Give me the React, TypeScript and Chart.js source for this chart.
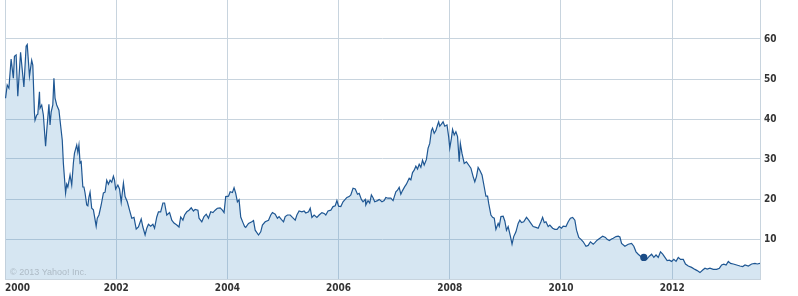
import React, { useEffect, useRef } from 'react';
import { Chart, registerables } from 'chart.js';

Chart.register(...registerables);

// Time in fractional years, price in USD
const years = [
  2000.01, 2000.04, 2000.07, 2000.11, 2000.15, 2000.17, 2000.2, 2000.23, 2000.28, 2000.34,
  2000.38, 2000.4, 2000.44, 2000.48, 2000.5, 2000.53, 2000.54, 2000.57, 2000.59, 2000.62,
  2000.63, 2000.66, 2000.69, 2000.73, 2000.75, 2000.79, 2000.81, 2000.83, 2000.86, 2000.88,
  2000.9, 2000.93, 2000.97, 2000.99, 2001.03, 2001.05, 2001.09, 2001.11, 2001.13, 2001.17,
  2001.2, 2001.23, 2001.25, 2001.29, 2001.31, 2001.33, 2001.35, 2001.37, 2001.4, 2001.42,
  2001.44, 2001.47, 2001.49, 2001.51, 2001.53, 2001.56, 2001.59, 2001.64, 2001.66, 2001.69,
  2001.73, 2001.77, 2001.8, 2001.83, 2001.86, 2001.89, 2001.92, 2001.95, 2001.97, 2001.99,
  2002.03, 2002.06, 2002.09, 2002.13, 2002.16, 2002.2, 2002.24, 2002.28, 2002.32, 2002.36,
  2002.4, 2002.45, 2002.48, 2002.52, 2002.55, 2002.58, 2002.62, 2002.66, 2002.69, 2002.73,
  2002.76, 2002.8, 2002.84, 2002.87, 2002.91, 2002.96, 2003.0, 2003.04, 2003.09, 2003.13,
  2003.16, 2003.2, 2003.23, 2003.27, 2003.31, 2003.35, 2003.39, 2003.42, 2003.47, 2003.49,
  2003.54, 2003.58, 2003.62, 2003.66, 2003.7, 2003.74, 2003.78, 2003.82, 2003.87, 2003.91,
  2003.94, 2003.97, 2004.02, 2004.05, 2004.09, 2004.12, 2004.15, 2004.18, 2004.21, 2004.24,
  2004.28, 2004.31, 2004.33, 2004.38, 2004.44, 2004.47, 2004.5, 2004.56, 2004.6, 2004.63,
  2004.68, 2004.74, 2004.78, 2004.81, 2004.86, 2004.9, 2004.93, 2004.97, 2005.01, 2005.04,
  2005.08, 2005.13, 2005.17, 2005.22, 2005.25, 2005.29, 2005.34, 2005.38, 2005.41, 2005.46,
  2005.49, 2005.52, 2005.56, 2005.61, 2005.65, 2005.7, 2005.74, 2005.77, 2005.81, 2005.86,
  2005.9, 2005.94, 2005.97, 2006.0, 2006.04, 2006.08, 2006.15, 2006.19, 2006.22, 2006.26,
  2006.3, 2006.34, 2006.37, 2006.41, 2006.44, 2006.48, 2006.49, 2006.53, 2006.56, 2006.59,
  2006.62, 2006.65, 2006.7, 2006.73, 2006.78, 2006.82, 2006.85, 2006.89, 2006.94, 2006.98,
  2007.03, 2007.06, 2007.09, 2007.12, 2007.15, 2007.19, 2007.22, 2007.27, 2007.3, 2007.33,
  2007.36, 2007.39, 2007.42, 2007.45, 2007.48, 2007.51, 2007.54, 2007.58, 2007.61, 2007.64,
  2007.67, 2007.69, 2007.72, 2007.75, 2007.78, 2007.8, 2007.82, 2007.85, 2007.88, 2007.91,
  2007.95, 2007.98, 2008.0, 2008.03, 2008.05, 2008.08, 2008.11, 2008.14, 2008.17, 2008.19,
  2008.22, 2008.26, 2008.3, 2008.34, 2008.38, 2008.42, 2008.45, 2008.48, 2008.51, 2008.54,
  2008.58, 2008.62, 2008.65, 2008.68, 2008.7, 2008.74, 2008.77, 2008.8, 2008.83, 2008.87,
  2008.89, 2008.92, 2008.96, 2008.99, 2009.02, 2009.05, 2009.09, 2009.12, 2009.15, 2009.19,
  2009.23, 2009.26, 2009.29, 2009.33, 2009.38, 2009.42, 2009.45, 2009.5, 2009.55, 2009.59,
  2009.64, 2009.67, 2009.7, 2009.73, 2009.77, 2009.8, 2009.85, 2009.89, 2009.93, 2009.97,
  2010.01, 2010.04, 2010.09, 2010.13, 2010.17, 2010.21, 2010.25, 2010.28, 2010.32, 2010.36,
  2010.4, 2010.45, 2010.49, 2010.53, 2010.58, 2010.61, 2010.65, 2010.7, 2010.75, 2010.8,
  2010.83, 2010.87, 2010.91, 2010.94, 2010.99, 2011.03, 2011.06, 2011.09, 2011.15, 2011.21,
  2011.27, 2011.31, 2011.35, 2011.39, 2011.43, 2011.49, 2011.54, 2011.59, 2011.63, 2011.67,
  2011.71, 2011.75, 2011.79, 2011.83, 2011.87, 2011.91, 2011.95, 2011.99, 2012.03, 2012.07,
  2012.11, 2012.15, 2012.2, 2012.24, 2012.29, 2012.35, 2012.41, 2012.45, 2012.5, 2012.55,
  2012.59, 2012.63, 2012.68, 2012.74, 2012.8, 2012.85, 2012.89, 2012.93, 2012.97, 2013.01,
  2013.05, 2013.1, 2013.16, 2013.22, 2013.27, 2013.31, 2013.37, 2013.43, 2013.49, 2013.53,
  2013.58,
];

const prices = [
  45.2, 48.5, 47.7, 55, 50.2, 55.7, 56, 45.7, 56.7, 48,
  58.2, 58.6, 50.7, 54.7, 53.5, 41.5, 39.7, 41, 41.2, 46.8,
  42.7, 43.5, 41, 33.2, 37, 43.7, 38.5, 41.7, 43.5, 50.2,
  45.2, 43.5, 42.2, 39.7, 34.7, 28.9, 21.5, 23.7, 23, 26,
  23.5, 29, 31.5, 33.5, 31.7, 33.5, 29, 29.3, 23, 23,
  21.5, 18.5, 18.3, 20.5, 21.7, 17.7, 17.3, 13.2, 15.2, 16,
  18.5, 21.5, 21.7, 24.7, 23.7, 24.7, 24.2, 25.7, 24.7, 22.5,
  23.5, 22.5, 19.2, 24, 20.6, 19.3, 17.2, 15.2, 15.4, 12.5,
  13, 15, 13, 11, 12.7, 13.7, 13.2, 13.7, 12.7, 15.5,
  16.8, 16.8, 19, 19, 16, 16.6, 14.7, 14, 13.5, 13,
  15.5, 14.7, 16, 16.8, 17.2, 17.8, 17, 17.4, 17.2, 15.2,
  14.3, 15.6, 16.2, 15.2, 16.8, 16.6, 17.2, 17.7, 17.8, 17.2,
  16.6, 20.6, 20.7, 21.8, 21.6, 22.8, 21.4, 19.3, 19.8, 15.5,
  14.1, 13.1, 12.9, 13.9, 14.3, 14.6, 12.2, 11, 11.8, 13.5,
  14.3, 14.7, 16, 16.6, 16.2, 15.2, 15.6, 14.9, 14.3, 15.6,
  16, 16, 15.4, 14.7, 16, 17, 16.8, 17, 16.5, 16.8,
  17.7, 15.4, 16, 15.4, 16, 16.6, 16.4, 16, 17, 17.2,
  18.1, 18.3, 19.6, 18.2, 18.1, 19.3, 20.4, 20.6, 21, 22.7,
  22.5, 21.2, 21.4, 19.9, 19.3, 19.9, 18.5, 19.6, 19, 21,
  20.3, 19.3, 19.6, 19.9, 19.3, 19.6, 20.4, 20.2, 20.2, 19.6,
  21.8, 22.2, 22.9, 21.2, 22.1, 23.1, 23.7, 25.2, 24.8, 26.6,
  27.2, 28.2, 27.5, 28.7, 27.9, 29.7, 28.5, 29.9, 32.7, 33.9,
  37.1, 37.7, 36.4, 37.1, 38.5, 39.3, 38.2, 38.7, 39.3, 38.2,
  38.5, 35.6, 32.7, 35.2, 37.4, 36, 36.8, 35.6, 29.3, 33.9,
  31.4, 28.9, 29.3, 28.5, 27.7, 25.6, 24.3, 25.6, 27.9, 27.2,
  26, 23, 20.7, 20.7, 18.9, 16, 15.4, 15.2, 12.4, 13.9,
  13.2, 15.6, 15.7, 14.5, 12.2, 13.1, 10.7, 8.7, 10.6, 11.8,
  13.9, 14.7, 14.1, 14.3, 15.4, 14.7, 14.1, 13.1, 12.9, 12.7,
  14.3, 15.4, 14.1, 14.3, 13.1, 13.5, 12.7, 12.4, 12.4, 13.1,
  12.7, 13.2, 13.1, 14.3, 15.2, 15.4, 14.7, 12.2, 10.4, 9.9,
  9.3, 8.2, 8.4, 9.3, 8.7, 9.1, 9.7, 10.2, 10.7, 10.4,
  9.9, 9.6, 10, 10.2, 10.6, 10.7, 10.5, 8.9, 8.2, 8.7,
  8.9, 8.2, 6.8, 6.2, 5.7, 5.4, 4.9, 5.7, 6.2, 5.4,
  6, 5.4, 6.8, 6.2, 5.4, 4.6, 4.7, 4.4, 4.9, 4.4,
  5.4, 4.9, 4.9, 3.75, 3.25, 2.9, 2.4, 2.1, 1.6, 2.25,
  2.7, 2.5, 2.7, 2.4, 2.4, 2.7, 3.5, 3.7, 3.5, 4.4,
  3.9, 3.75, 3.5, 3.25, 3.1, 3.5, 3.25, 3.75, 3.9, 3.75,
  3.9,
];

const markerYears = [2011.49];
const markerPrices = [5.4];

const xTickYears = [2000, 2002, 2004, 2006, 2008, 2010, 2012];
const xTickLabels = ['2000', '2002', '2004', '2006', '2008', '2010', '2012'];
const yTickValues = [0, 10, 20, 30, 40, 50, 60];
const yTickLabels = ['', '10', '20', '30', '40', '50', '60'];
const copyrightText = '\u00A9 2013 Yahoo! Inc.';

const X_MIN = 2000;
const X_MAX = 2013.58;
const Y_MIN = 0;
const Y_MAX = 69.75;

const GRID = '#c8d4de';
const LABEL_FONT = '"DejaVu Sans Condensed", "DejaVu Sans", sans-serif';

const copyrightPlugin = {
  id: 'copyright',
  afterDatasetsDraw(chart: any) {
    const { ctx, chartArea } = chart;
    ctx.save();
    ctx.font = '9px "Liberation Sans", Arial, sans-serif';
    ctx.fillStyle = '#aebbc6';
    ctx.textAlign = 'left';
    ctx.textBaseline = 'middle';
    ctx.fillText(copyrightText, chartArea.left + 5, chartArea.bottom - 6.5);
    ctx.restore();
  },
};

export default function App() {
  const canvasRef = useRef<HTMLCanvasElement | null>(null);

  useEffect(() => {
    document.body.style.margin = '0';
    const canvas = canvasRef.current;
    if (!canvas) return;
    const chart = new Chart(canvas, {
      type: 'line',
      data: {
        datasets: [
          {
            data: markerYears.map((x, i) => ({ x, y: markerPrices[i] })),
            pointRadius: 3.6,
            pointBackgroundColor: '#1b4c86',
            pointBorderWidth: 0,
            showLine: false,
            fill: false,
            order: 0,
          },
          {
            data: years.map((x, i) => ({ x, y: prices[i] })),
            borderColor: '#1f5793',
            borderWidth: 1.2,
            backgroundColor: 'rgba(70, 140, 195, 0.22)',
            fill: 'origin',
            pointRadius: 0,
            tension: 0,
            order: 1,
          },
        ],
      },
      options: {
        animation: false,
        responsive: false,
        devicePixelRatio: 1,
        layout: { autoPadding: false, padding: { left: 5, top: 0, right: 0, bottom: 0 } },
        plugins: {
          legend: { display: false },
          tooltip: { enabled: false },
        },
        scales: {
          x: {
            type: 'linear',
            min: X_MIN,
            max: X_MAX,
            afterBuildTicks: (scale: any) => {
              scale.ticks = xTickYears.map((v) => ({ value: v })).concat([{ value: X_MAX }]);
            },
            afterFit: (scale: any) => {
              scale.height = 17;
              scale.paddingLeft = 0;
              scale.paddingRight = 0;
            },
            grid: {
              color: (ctx: any) => (ctx.tick && ctx.tick.value === X_MAX ? 'rgba(0,0,0,0)' : GRID),
              drawTicks: false,
              lineWidth: 1,
            },
            border: { display: true, color: GRID },
            ticks: {
              autoSkip: false,
              maxRotation: 0,
              align: 'inner',
              padding: 3,
              color: '#333333',
              font: { family: LABEL_FONT, size: 10, weight: 'bold' },
              callback: (value: any) => {
                const i = xTickYears.indexOf(Number(value));
                return i >= 0 ? xTickLabels[i] : '';
              },
            },
          },
          y: {
            type: 'linear',
            position: 'right',
            min: Y_MIN,
            max: Y_MAX,
            afterBuildTicks: (scale: any) => {
              scale.ticks = yTickValues.map((v) => ({ value: v }));
            },
            afterFit: (scale: any) => {
              scale.width = 38;
              scale.paddingTop = 0;
              scale.paddingBottom = 0;
            },
            grid: { color: GRID, drawTicks: false, lineWidth: 1 },
            border: { display: true, color: GRID },
            ticks: {
              padding: 4,
              color: '#333333',
              font: { family: LABEL_FONT, size: 10, weight: 'bold' },
              callback: (value: any) => {
                const i = yTickValues.indexOf(Number(value));
                return i >= 0 ? yTickLabels[i] : '';
              },
            },
          },
        },
      } as any,
      plugins: [copyrightPlugin],
    });
    return () => chart.destroy();
  }, []);

  return (
    <div style={{ width: 798, height: 296, background: '#ffffff' }}>
      <canvas ref={canvasRef} width={798} height={296} style={{ display: 'block' }} />
    </div>
  );
}
